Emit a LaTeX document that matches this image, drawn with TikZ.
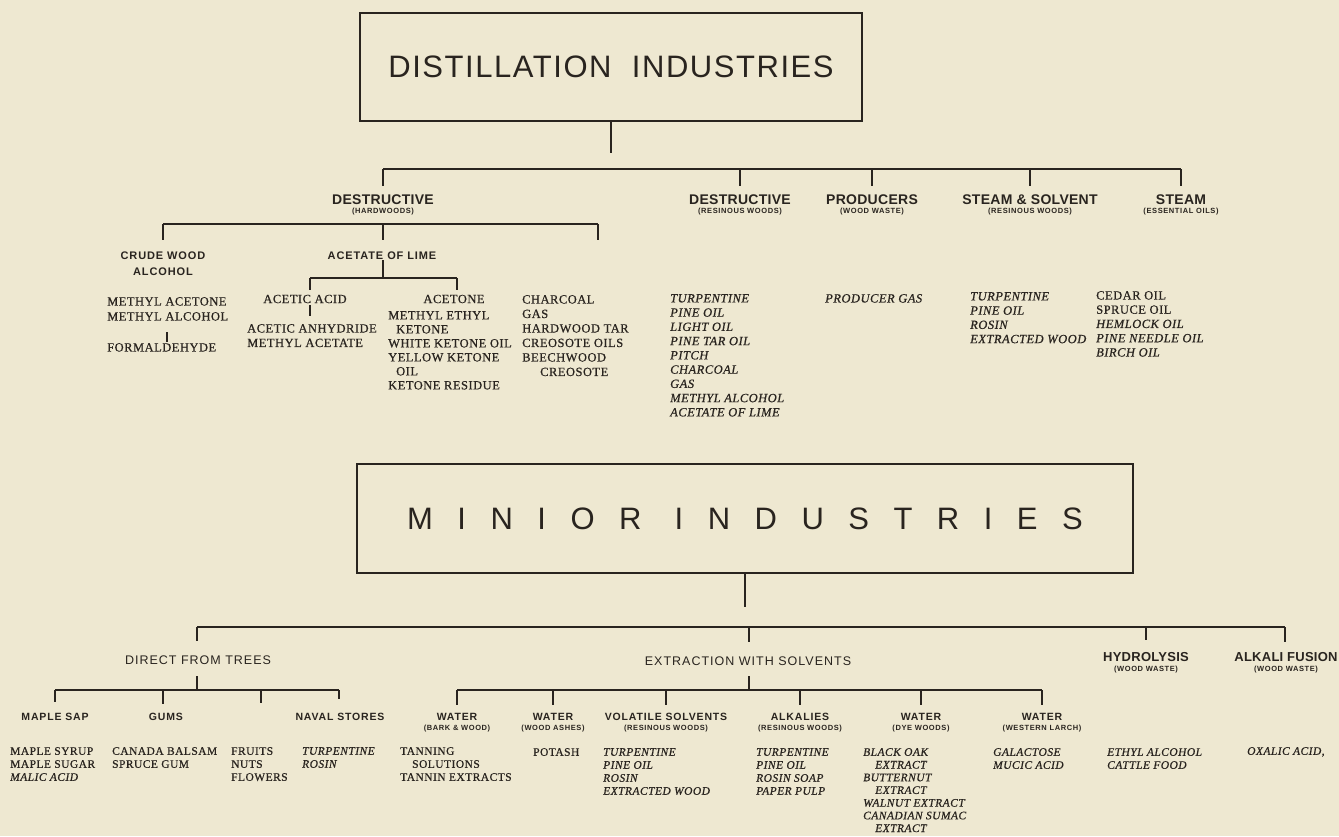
\documentclass[tikz,border=0pt]{standalone}
\usepackage{fontspec}
\setmainfont{Liberation Serif}
\newfontfamily\titleA[LetterSpace=5]{Liberation Sans}
\newfontfamily\titleB[LetterSpace=79]{Liberation Sans}
\newfontfamily\hfont[LetterSpace=2]{Liberation Sans}
\newfontfamily\hwide[LetterSpace=8]{Liberation Sans}
\newfontfamily\sfont[LetterSpace=8]{Liberation Sans}
\newfontfamily\lfont[LetterSpace=4,FakeBold=0.6]{Liberation Serif}
\definecolor{bg}{HTML}{EEE8D1}
\definecolor{ink}{HTML}{29241F}
\tikzset{
  titlebox/.style={draw=ink, line width=1.6pt, inner sep=0pt, text=ink},
  link/.style={draw=ink, line width=1.1pt},
  headA/.style={text=ink, inner sep=0pt, font=\hfont\bfseries\fontsize{14}{14}\selectfont},
  headB/.style={text=ink, inner sep=0pt, align=center, font=\hwide\bfseries\fontsize{11}{16}\selectfont},
  headC/.style={text=ink, inner sep=0pt, font=\hwide\fontsize{12.5}{14}\selectfont},
  headD/.style={text=ink, inner sep=0pt, font=\hwide\bfseries\fontsize{10.5}{12}\selectfont},
  headE/.style={text=ink, inner sep=0pt, font=\hfont\bfseries\fontsize{13}{14}\selectfont},
  subcap/.style={text=ink, inner sep=0pt, font=\sfont\bfseries\fontsize{7.5}{8}\selectfont},
  item/.style={text=ink, inner sep=0pt, font=\lfont\fontsize{12.5}{14.5}\selectfont},
  listA/.style={text=ink, inner sep=0pt, anchor=north west, align=left, font=\lfont\fontsize{12.5}{14.5}\selectfont},
  listAI/.style={text=ink, inner sep=0pt, anchor=north west, align=left, font=\lfont\itshape\fontsize{12.5}{14.25}\selectfont},
  listB/.style={text=ink, inner sep=0pt, anchor=north west, align=left, font=\lfont\fontsize{11.5}{13}\selectfont},
  listBI/.style={text=ink, inner sep=0pt, anchor=north west, align=left, font=\lfont\itshape\fontsize{11.5}{13}\selectfont},
}
\begin{document}
\begin{tikzpicture}[x=1pt,y=-1pt]
\fill[bg] (0,0) rectangle (1339,836);
\useasboundingbox (0,0) rectangle (1339,836);

% ================= DISTILLATION INDUSTRIES =================
\node[titlebox, minimum width=502pt, minimum height=108pt] (topbox) at (611,67)
  {\titleA\fontsize{31}{31}\selectfont DISTILLATION\ \ INDUSTRIES};
\coordinate (tv) at (611,153);
\draw[link] (topbox.south) -- (tv);
\foreach \x/\n in {383/1,740/2,872/3,1030/4,1181/5}{
  \coordinate (tb\n) at (\x,169);
  \coordinate (te\n) at (\x,186);
  \draw[link] (tb\n) -- (te\n);
}
\draw[link] (tb1) -- (tb5);

\node[headA] (hd1) at (383,200) {DESTRUCTIVE};
\node[subcap] (hs1) at (383,212) {(HARDWOODS)};
\node[headA] (hd2) at (740,200) {DESTRUCTIVE};
\node[subcap] (hs2) at (740,212) {(RESINOUS WOODS)};
\node[headA] (hd3) at (872,200) {PRODUCERS};
\node[subcap] (hs3) at (872,212) {(WOOD WASTE)};
\node[headA] (hd4) at (1030,200) {STEAM \& SOLVENT};
\node[subcap] (hs4) at (1030,212) {(RESINOUS WOODS)};
\node[headA] (hd5) at (1181,200) {STEAM};
\node[subcap] (hs5) at (1181,212) {(ESSENTIAL OILS)};

% hardwoods sub tree
\foreach \x/\n in {163/1,383/2,598/3}{
  \coordinate (hb\n) at (\x,224);
  \coordinate (he\n) at (\x,240);
  \draw[link] (hb\n) -- (he\n);
}
\draw[link] (hb1) -- (hb3);
\node[headB] (cwa) at (163,264) {CRUDE WOOD\\ALCOHOL};
\node[headB] (acl) at (382,256) {ACETATE OF LIME};
\coordinate (ab) at (383,278);
\draw[link] (acl.south -| ab) -- (ab);
\foreach \x/\n in {310/1,457/2}{
  \coordinate (ab\n) at (\x,278);
  \coordinate (ae\n) at (\x,290);
  \draw[link] (ab\n) -- (ae\n);
}
\draw[link] (ab1) -- (ab2);

% lists (hardwoods)
\node[listA, font=\lfont\fontsize{12.5}{15}\selectfont] (lma) at (107,297) {METHYL ACETONE\\METHYL ALCOHOL};
\coordinate (fm1) at (167,332);
\coordinate (fm2) at (167,342);
\draw[link] (fm1) -- (fm2);
\node[listA] (lfo) at (107,343) {FORMALDEHYDE};
\node[item] (laa) at (305,299) {ACETIC ACID};
\coordinate (aa1) at (310,305);
\coordinate (aa2) at (310,316);
\draw[link] (aa1) -- (aa2);
\node[listA] (lan) at (247,324) {ACETIC ANHYDRIDE\\METHYL ACETATE};
\node[item] (lac) at (454,299) {ACETONE};
\node[listA, font=\lfont\fontsize{12.5}{14}\selectfont] (lke) at (388,311)
  {METHYL ETHYL\\\hspace*{8pt}KETONE\\WHITE KETONE OIL\\YELLOW KETONE\\\hspace*{8pt}OIL\\KETONE RESIDUE};
\node[listA] (lch) at (522,295)
  {CHARCOAL\\GAS\\HARDWOOD TAR\\CREOSOTE OILS\\BEECHWOOD\\\hspace*{18pt}CREOSOTE};

% lists (right)
\node[listAI] (lrw) at (670,294)
  {TURPENTINE\\PINE OIL\\LIGHT OIL\\PINE TAR OIL\\PITCH\\CHARCOAL\\GAS\\METHYL ALCOHOL\\ACETATE OF LIME};
\node[listAI] (lpg) at (825,294) {PRODUCER GAS};
\node[listAI] (lss) at (970,292) {TURPENTINE\\PINE OIL\\ROSIN\\EXTRACTED WOOD};
\node[listA, font=\lfont\fontsize{12.5}{14.25}\selectfont] (lst) at (1096,291)
  {CEDAR OIL\\SPRUCE OIL\\\textit{HEMLOCK OIL}\\\textit{PINE NEEDLE OIL}\\\textit{BIRCH OIL}};

% ================= MINIOR INDUSTRIES =================
\node[titlebox, minimum width=776pt, minimum height=109pt] (botbox) at (745,518.5)
  {\titleB\fontsize{31}{31}\selectfont MINIOR INDUSTRIES};
\coordinate (bv) at (745,607);
\draw[link] (botbox.south) -- (bv);
\foreach \x/\n/\ey in {197/1/641,749/2/642,1146/3/640,1285/4/642}{
  \coordinate (bb\n) at (\x,627);
  \coordinate (be\n) at (\x,\ey);
  \draw[link] (bb\n) -- (be\n);
}
\draw[link] (bb1) -- (bb4);

\node[headC] (dft) at (198,660) {DIRECT FROM TREES};
\node[headC] (ews) at (748,661) {EXTRACTION WITH SOLVENTS};
\node[headE] (hyd) at (1146,657) {HYDROLYSIS};
\node[subcap] (hyds) at (1146,670) {(WOOD WASTE)};
\node[headE] (alk) at (1286,657) {ALKALI FUSION};
\node[subcap] (alks) at (1286,670) {(WOOD WASTE)};

% direct from trees sub tree
\coordinate (dv1) at (197,676);
\coordinate (dv2) at (197,690);
\draw[link] (dv1) -- (dv2);
\foreach \x/\n/\ey in {55/1/702,163/2/704,261/3/703,339/4/699}{
  \coordinate (db\n) at (\x,690);
  \coordinate (de\n) at (\x,\ey);
  \draw[link] (db\n) -- (de\n);
}
\draw[link] (db1) -- (db4);
\node[headD] (msp) at (55,717) {MAPLE SAP};
\node[headD] (gum) at (166,717) {GUMS};
\node[headD] (nav) at (340,717) {NAVAL STORES};

% extraction sub tree
\coordinate (ev1) at (749,676);
\coordinate (ev2) at (749,690);
\draw[link] (ev1) -- (ev2);
\foreach \x/\n in {457/1,553/2,666/3,800/4,921/5,1042/6}{
  \coordinate (eb\n) at (\x,690);
  \coordinate (ee\n) at (\x,705);
  \draw[link] (eb\n) -- (ee\n);
}
\draw[link] (eb1) -- (eb6);
\node[headD] (w1) at (457,717) {WATER};
\node[subcap] (w1s) at (457,729) {(BARK \& WOOD)};
\node[headD] (w2) at (553,717) {WATER};
\node[subcap] (w2s) at (553,729) {(WOOD ASHES)};
\node[headD] (vso) at (666,717) {VOLATILE SOLVENTS};
\node[subcap] (vsos) at (666,729) {(RESINOUS WOODS)};
\node[headD] (alka) at (800,717) {ALKALIES};
\node[subcap] (alkas) at (800,729) {(RESINOUS WOODS)};
\node[headD] (w3) at (921,717) {WATER};
\node[subcap] (w3s) at (921,729) {(DYE WOODS)};
\node[headD] (w4) at (1042,717) {WATER};
\node[subcap] (w4s) at (1042,729) {(WESTERN LARCH)};

% bottom lists
\node[listB] (lms) at (10,747) {MAPLE SYRUP\\MAPLE SUGAR\\\textit{MALIC ACID}};
\node[listB] (lcb) at (112,747) {CANADA BALSAM\\SPRUCE GUM};
\node[listB] (lfr) at (231,747) {FRUITS\\NUTS\\FLOWERS};
\node[listBI] (lns) at (302,747) {TURPENTINE\\ROSIN};
\node[listB] (ltn) at (400,747) {TANNING\\\hspace*{12pt}SOLUTIONS\\TANNIN EXTRACTS};
\node[listB] (lpo) at (533,748) {POTASH};
\node[listBI] (lvs) at (603,748) {TURPENTINE\\PINE OIL\\ROSIN\\EXTRACTED WOOD};
\node[listBI] (lak) at (756,748) {TURPENTINE\\PINE OIL\\ROSIN SOAP\\PAPER PULP};
\node[listBI, font=\lfont\itshape\fontsize{11.5}{12.7}\selectfont] (ldw) at (863,748)
  {BLACK OAK\\\hspace*{12pt}EXTRACT\\BUTTERNUT\\\hspace*{12pt}EXTRACT\\WALNUT EXTRACT\\CANADIAN SUMAC\\\hspace*{12pt}EXTRACT};
\node[listBI] (lwl) at (993,748) {GALACTOSE\\MUCIC ACID};
\node[listBI] (lhy) at (1107,748) {ETHYL ALCOHOL\\CATTLE FOOD};
\node[listBI] (lox) at (1247,747) {OXALIC ACID,};
\end{tikzpicture}
\end{document}
